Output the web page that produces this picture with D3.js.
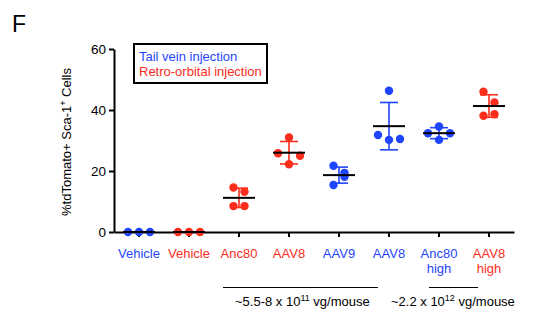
<!DOCTYPE html>
<html>
<head>
<meta charset="utf-8">
<script src="https://cdn.jsdelivr.net/npm/d3@7"></script>
<style>
  html, body { margin: 0; padding: 0; background: #fff; }
  svg { display: block; }
  text { font-family: "Liberation Sans", Arial, Helvetica, sans-serif; }
</style>
</head>
<body>
<svg id="chart" width="533" height="328"></svg>
<script>
// ---- data ----
const categories = ["Vehicle", "Vehicle", "Anc80", "AAV8", "AAV9", "AAV8", "Anc80\nhigh", "AAV8\nhigh"];
const routes = ["tail", "retro", "retro", "retro", "tail", "tail", "tail", "retro"];
const values = [
  [0, 0, 0],
  [0, 0, 0],
  [14.6, 13.2, 8.5, 8.5],
  [31.0, 25.8, 25.0, 22.2],
  [21.7, 19.4, 18.1, 15.4],
  [46.3, 31.8, 30.2, 30.5],
  [34.6, 32.4, 32.4, 30.2],
  [46.0, 42.5, 38.1, 38.6]
];
// Prism column-scatter slot of each point (left/right of column centre)
const jitter = [
  [-1, 0, 1],
  [-1, 0, 1],
  [-0.5, 0.5, -0.5, 0.5],
  [0, -1, 1, 0],
  [-0.5, 0.5, 0.5, -0.5],
  [0, -1, 0, 1],
  [0, -1, 1, 0],
  [-0.5, 0.5, -0.5, 0.5]
];
const yTicks = [0, 20, 40, 60];
const legendLabels = ["Tail vein injection", "Retro-orbital injection"];
const legendRoutes = ["tail", "retro"];
const doseSpans = [
  { from: 2, to: 5, text: "~5.5-8 x 10", sup: "11", tail: " vg/mouse" },
  { from: 6, to: 7, text: "~2.2 x 10", sup: "12", tail: " vg/mouse" }
];

// ---- styles ----
const colors = { tail: "#1f45fc", retro: "#fc2d1c" };
const svg = d3.select("#chart");

const x = d3.scaleBand().domain(d3.range(categories.length)).range([114, 514]);
const cx = i => x(i) + x.bandwidth() / 2;
const y = d3.scaleLinear().domain([0, 60]).range([232, 49]);

// panel letter
svg.append("text").attr("x", 12).attr("y", 32)
  .attr("font-size", 23).attr("fill", "#000").text("F");

// y axis
const yAxis = svg.append("g").attr("transform", "translate(114,0)")
  .call(d3.axisLeft(y).tickValues(yTicks).tickSize(5).tickSizeOuter(0).tickPadding(3));
yAxis.selectAll("path, line").attr("stroke", "#000").attr("stroke-width", 2);
yAxis.selectAll("text").attr("font-size", 13.5).attr("fill", "#000")
  .attr("font-family", '"Liberation Sans", Arial, sans-serif');

// x axis
const xAxis = svg.append("g").attr("transform", "translate(0,232)")
  .call(d3.axisBottom(x).tickSize(5).tickSizeOuter(0).tickFormat(() => ""));
xAxis.selectAll("path, line").attr("stroke", "#000").attr("stroke-width", 2);

// x labels
categories.forEach((c, i) => {
  const t = svg.append("text").attr("x", cx(i)).attr("y", 258)
    .attr("text-anchor", "middle").attr("font-size", 13)
    .attr("fill", colors[routes[i]]);
  c.split("\n").forEach((line, k) => {
    t.append("tspan").attr("x", cx(i)).attr("dy", k === 0 ? 0 : 15).text(line);
  });
});

// y label
const yl = svg.append("text")
  .attr("transform", "translate(71,142) rotate(-90)")
  .attr("text-anchor", "middle").attr("font-size", 13).attr("fill", "#000");
yl.append("tspan").text("%tdTomato+ Sca-1");
yl.append("tspan").attr("font-size", 9).attr("dy", -5).text("+");
yl.append("tspan").attr("dy", 5).text(" Cells");

// dose brackets
const spanOffsets = [{ l: -16, r: -11, tx: -4 }, { l: -10, r: -11, tx: -48 }];
doseSpans.forEach((s, k) => {
  const o = spanOffsets[k];
  svg.append("line")
    .attr("x1", cx(s.from) + o.l).attr("x2", cx(s.to) + o.r)
    .attr("y1", 287.5).attr("y2", 287.5)
    .attr("stroke", "#000").attr("stroke-width", 1.2);
  const t = svg.append("text").attr("x", cx(s.from) + o.tx).attr("y", 306)
    .attr("font-size", 13).attr("fill", "#000");
  t.append("tspan").text(s.text);
  t.append("tspan").attr("font-size", 9).attr("dy", -5).text(s.sup);
  t.append("tspan").attr("dy", 5).text(s.tail);
});

// legend
svg.append("rect").attr("x", 134).attr("y", 44).attr("width", 133).attr("height", 39)
  .attr("fill", "#fff").attr("stroke", "#000").attr("stroke-width", 2);
legendLabels.forEach((l, i) => {
  svg.append("text").attr("x", 139).attr("y", 61 + i * 15)
    .attr("font-size", 13).attr("fill", colors[legendRoutes[i]]).text(l);
});

// points, error bars, means
const slot = 11;
values.forEach((vals, i) => {
  const col = colors[routes[i]];
  const g = svg.append("g");
  g.selectAll("circle").data(vals).join("circle")
    .attr("cx", (v, k) => cx(i) + jitter[i][k] * slot)
    .attr("cy", v => y(v))
    .attr("r", 4.2)
    .attr("fill", col);
  const m = d3.mean(vals);
  const sd = d3.deviation(vals) || 0;
  if (sd > 0) {
    g.append("line").attr("x1", cx(i)).attr("x2", cx(i))
      .attr("y1", y(m + sd)).attr("y2", y(m - sd))
      .attr("stroke", col).attr("stroke-width", 1.6);
    [m + sd, m - sd].forEach(v => {
      g.append("line").attr("x1", cx(i) - 9).attr("x2", cx(i) + 9)
        .attr("y1", y(v)).attr("y2", y(v))
        .attr("stroke", col).attr("stroke-width", 1.6);
    });
  }
  g.append("line").attr("x1", cx(i) - 16).attr("x2", cx(i) + 16)
    .attr("y1", y(m)).attr("y2", y(m))
    .attr("stroke", "#000").attr("stroke-width", 2);
});
</script>
</body>
</html>
